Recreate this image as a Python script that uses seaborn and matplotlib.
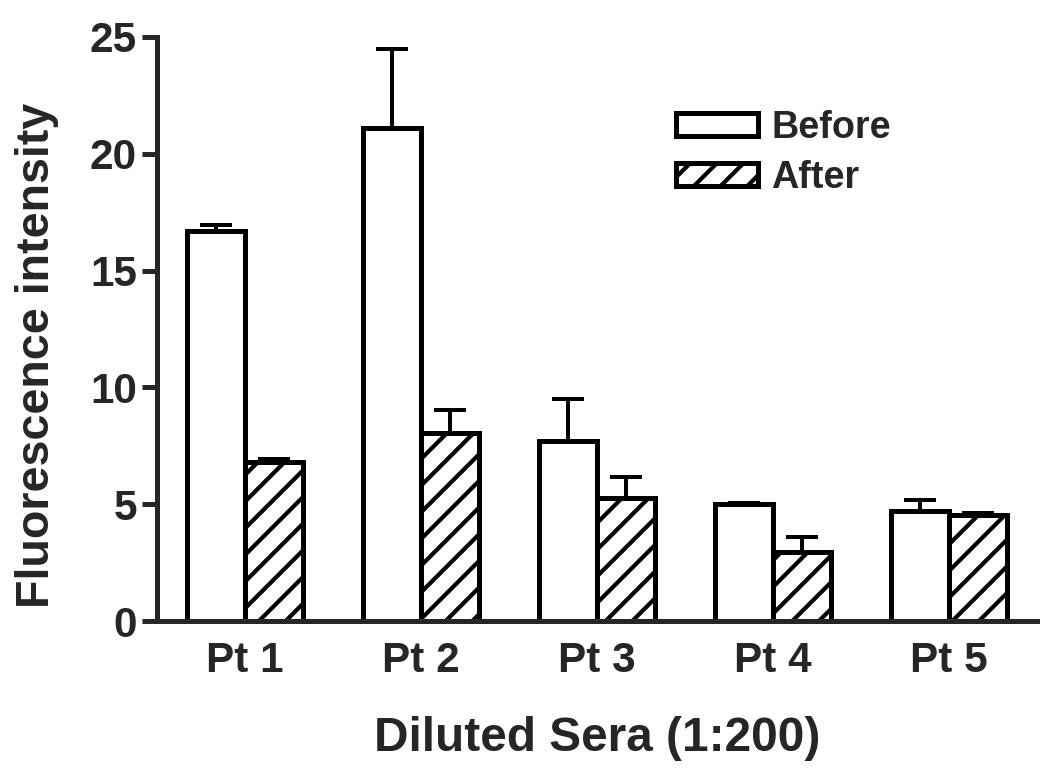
import numpy as np
import pandas as pd
import matplotlib.pyplot as plt
import seaborn as sns
from matplotlib.patches import Patch

# Valeurs
patients = ["Pt 1", "Pt 2", "Pt 3", "Pt 4", "Pt 5"]
groups = ["Before", "After"]
before = [16.7, 21.1, 7.7, 5.0, 4.7]
after = [6.8, 8.05, 5.25, 2.97, 4.54]
before_err = [0.25, 3.4, 1.8, 0.06, 0.47]
after_err = [0.12, 1.0, 0.9, 0.64, 0.1]
yticks = [0, 5, 10, 15, 20, 25]

df = pd.DataFrame({
    "patient": patients * 2,
    "value": before + after,
    "group": [groups[0]] * len(before) + [groups[1]] * len(after),
})

sns.set_style("ticks")
plt.rcParams["font.family"] = ["Liberation Sans", "DejaVu Sans"]
plt.rcParams["hatch.linewidth"] = 1.9
lw = 2.25

fig = plt.figure(figsize=(1050 / 160, 780 / 160), dpi=160)
ax = fig.add_axes([0.1495, 0.2038, 0.838, 0.7488])

sns.barplot(data=df, x="patient", y="value", hue="group", hue_order=groups,
            palette=["white", "white"], saturation=1, width=0.66,
            edgecolor="black", linewidth=lw, errorbar=None, legend=False, ax=ax)

for bar in ax.containers[1]:
    bar.set_hatch("//")

# barres d'erreur (vers le haut seulement)
for cont, err in zip(ax.containers, [before_err, after_err]):
    xs = [b.get_x() + b.get_width() / 2 for b in cont]
    ys = [b.get_height() for b in cont]
    ax.errorbar(xs, ys, yerr=[np.zeros(len(err)), err], fmt="none",
                ecolor="black", elinewidth=1.8, capsize=7.4, capthick=1.8,
                zorder=3)

ax.set_ylim(0, 25)
ax.set_xlim(-0.5, 4.5)
ax.set_yticks(yticks)
sns.despine(ax=ax)
for side in ["left", "bottom"]:
    ax.spines[side].set_linewidth(lw)

ax.tick_params(axis="y", length=6.75, width=lw, pad=2.25, labelsize=19)
ax.tick_params(axis="x", length=0, pad=9, labelsize=19)
for lab in ax.get_xticklabels() + ax.get_yticklabels():
    lab.set_fontweight("bold")

ax.set_xlabel("Diluted Sera (1:200)", fontsize=21.5, fontweight="bold")
ax.set_ylabel("Fluorescence intensity", fontsize=21, fontweight="bold")
ax.xaxis.set_label_coords(0.5, -0.163)
ax.yaxis.set_label_coords(-0.111, 0.455)

handles = [
    Patch(facecolor="white", edgecolor="black", linewidth=lw, label="Before"),
    Patch(facecolor="white", edgecolor="black", linewidth=lw, hatch="//", label="After"),
]
leg = ax.legend(handles=handles, frameon=False, loc="upper left",
                bbox_to_anchor=(0.59, 0.875), fontsize=17, handlelength=2.17,
                handleheight=0.53, labelspacing=0.37, handletextpad=0.35,
                borderaxespad=0, borderpad=0)
for t in leg.get_texts():
    t.set_fontweight("bold")

fig.savefig("out.png", dpi=160)
